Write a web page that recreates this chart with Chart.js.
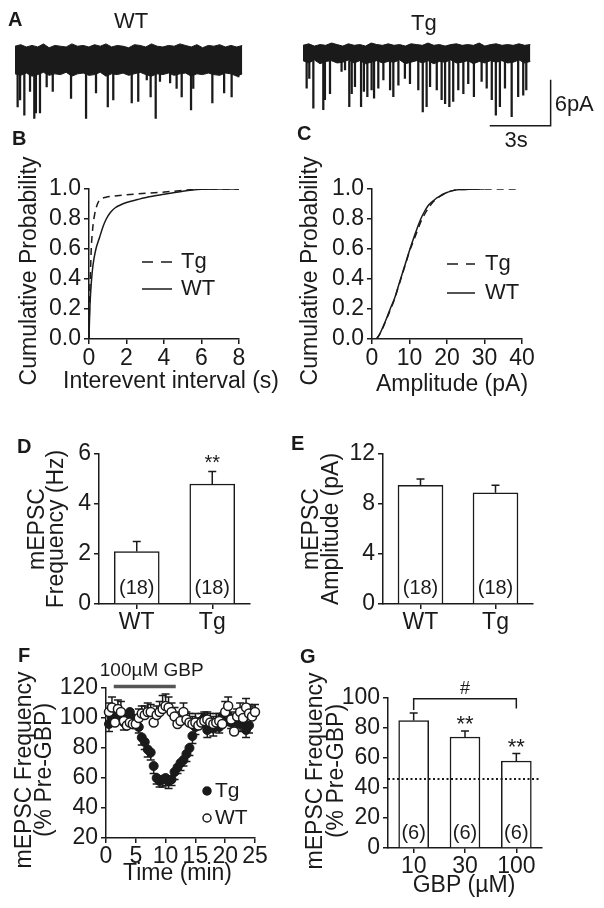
<!DOCTYPE html>
<html><head><meta charset="utf-8">
<script src="https://cdn.jsdelivr.net/npm/chart.js@4.4.1/dist/chart.umd.min.js"></script>
<style>
html,body{margin:0;padding:0;background:#fff;}
#fig{position:relative;width:604px;height:908px;overflow:hidden;background:#fff;font-family:"Liberation Sans",Arial,Helvetica,sans-serif;color:#1a1a1a;}
canvas{position:absolute;}
.lbl{position:absolute;font-weight:bold;font-size:20px;line-height:1;}
.ttl{position:absolute;font-size:22px;line-height:1;}
</style></head><body><div id="fig">
<canvas id="cWT"></canvas><canvas id="cTG"></canvas>
<canvas id="cB"></canvas><canvas id="cC"></canvas>
<canvas id="cD"></canvas><canvas id="cE"></canvas>
<canvas id="cF"></canvas><canvas id="cG"></canvas>
<div class="lbl" style="left:8px;top:9px">A</div>
<div class="lbl" style="left:12px;top:128px">B</div>
<div class="lbl" style="left:297px;top:123px">C</div>
<div class="lbl" style="left:17px;top:436px">D</div>
<div class="lbl" style="left:291px;top:433px">E</div>
<div class="lbl" style="left:18px;top:645px">F</div>
<div class="lbl" style="left:300px;top:646px">G</div>
<div class="ttl" style="left:114px;top:10px">WT</div>
<div class="ttl" style="left:411px;top:12px">Tg</div>
</div>
<script>
// ================= DATA =================
// Panel A: example traces (time in s, current in pA relative to baseline)
const wtBandTime = [0,0.28,0.56,0.84,1.12,1.4,1.68,1.96,2.24,2.52,2.8,3.08,3.36,3.64,3.92,4.2,4.48,4.76,5.04,5.32,5.6,5.88,6.16,6.44,6.72,7.0,7.28,7.56,7.84,8.12,8.4,8.68,8.96,9.24,9.52,9.8,10.08,10.36,10.64,10.92,11.2];
const wtBandTop = [1.8,2.0,1.7,1.9,1.7,2.1,1.6,1.9,1.8,1.7,2.1,1.8,1.9,1.7,2.0,1.8,2.1,1.7,1.9,1.8,1.6,2.0,1.9,1.7,2.1,1.8,1.7,1.9,1.8,2.1,1.9,1.7,2.0,1.6,1.9,1.8,2.0,1.7,1.9,1.7,1.9];
const wtBandBottom = [-1.8,-2.0,-1.7,-2.1,-1.9,-1.6,-2.0,-1.8,-1.9,-1.6,-2.1,-1.8,-1.7,-2.0,-1.9,-1.6,-2.1,-1.8,-1.9,-1.7,-2.0,-1.8,-1.6,-1.9,-2.1,-1.8,-1.9,-1.7,-2.0,-1.8,-1.7,-2.1,-1.8,-1.9,-1.7,-1.9,-2.0,-1.7,-1.8,-2.1,-1.8];
const wtEventTime = [0.13,0.25,0.46,0.74,0.95,1.03,1.23,1.56,1.86,2.76,3.5,3.99,4.57,4.84,5.75,6.07,6.49,6.68,6.93,7.14,7.64,7.96,8.21,8.67,8.78,9.72,10.3,10.67,11.0];
const wtEventAmp = [-6.1,-5.2,-7.2,-4.1,-7.6,-6.9,-6.9,-3.5,-4.1,-5.0,-7.6,-4.3,-6.1,-5.2,-5.6,-5.4,-2.6,-4.8,-7.6,-2.8,-3.0,-3.7,-4.8,-6.5,-3.7,-5.6,-4.3,-4.8,-2.2];
const tgBandTime = [0,0.28,0.56,0.84,1.12,1.4,1.68,1.96,2.24,2.52,2.8,3.08,3.36,3.64,3.92,4.2,4.48,4.76,5.04,5.32,5.6,5.88,6.16,6.44,6.72,7.0,7.28,7.56,7.84,8.12,8.4,8.68,8.96,9.24,9.52,9.8,10.08,10.36,10.64,10.92,11.2];
const tgBandTop = [1.0,1.2,0.9,1.1,1.0,1.3,1.1,0.9,1.2,1.0,1.1,0.9,1.3,1.1,1.0,1.2,1.0,1.1,0.9,1.2,1.1,1.0,1.3,1.0,1.1,0.9,1.1,1.2,1.0,1.1,1.0,1.3,0.9,1.1,1.2,1.0,1.1,1.0,1.2,1.0,1.1];
const tgBandBottom = [-1.0,-1.3,-0.9,-1.4,-1.1,-1.0,-1.3,-1.2,-0.9,-1.3,-1.0,-1.4,-1.2,-1.0,-1.3,-1.1,-1.2,-0.9,-1.4,-1.2,-1.0,-1.3,-1.0,-1.4,-1.1,-1.2,-0.9,-1.3,-1.2,-1.0,-1.4,-1.1,-1.3,-1.0,-1.2,-1.0,-1.3,-1.2,-0.9,-1.3,-1.1];
const tgEventTime = [0.18,0.31,0.51,1.0,1.08,1.33,1.9,2.07,2.28,2.4,2.56,2.86,3.0,3.17,3.38,3.5,3.71,3.96,4.29,4.45,4.7,5.02,5.27,5.68,5.9,6.09,6.26,6.59,6.83,7.0,7.21,7.4,7.65,7.9,8.14,8.42,8.8,9.05,9.3,9.5,9.7,9.95,10.28,10.6,10.85,11.0];
const tgEventAmp = [-4.6,-3.3,-7.2,-7.4,-6.1,-5.3,-2.4,-2.2,-7.0,-5.3,-4.4,-7.0,-5.0,-5.7,-4.8,-5.9,-4.6,-3.5,-4.8,-5.7,-4.2,-3.3,-4.0,-4.8,-7.7,-7.0,-4.4,-4.8,-6.1,-6.6,-7.0,-6.3,-4.8,-5.3,-4.0,-5.7,-3.7,-4.6,-6.1,-8.1,-7.0,-4.6,-8.3,-5.7,-5.5,-4.8];
const scaleBarTime = 3;      // s
const scaleBarCurrent = 6;   // pA
const scaleBarT0 = 9.2, scaleBarI0 = -9.5;

// Panel B: cumulative probability vs interevent interval (s)
const intervalTgX = [0,0.03,0.08,0.12,0.2,0.3,0.45,0.6,0.9,1.5,2.5,3.5,4.5,5.2,6,8];
const intervalTgY = [0,0.25,0.45,0.6,0.74,0.83,0.9,0.93,0.945,0.955,0.967,0.975,0.985,0.993,1.0,1.0];
const intervalWtX = [0,0.02,0.05,0.12,0.21,0.35,0.57,0.75,0.92,1.15,1.4,1.7,2.0,2.6,3.2,4.0,4.5,5.0,5.5,6.0,7,8];
const intervalWtY = [0,0.1,0.22,0.37,0.49,0.59,0.68,0.75,0.8,0.845,0.875,0.895,0.91,0.93,0.948,0.965,0.975,0.985,0.993,0.998,1.0,1.0];

// Panel C: cumulative probability vs amplitude (pA)
const ampTgX = [1.2,2,3,4,5,6,7,8,9,10,11,12,13,14,15,16,17,18,19,20,21,22,24,26,30,39];
const ampTgY = [0,0.03,0.08,0.14,0.2,0.265,0.345,0.425,0.505,0.585,0.65,0.715,0.78,0.83,0.87,0.905,0.93,0.95,0.965,0.977,0.986,0.992,0.997,0.999,1.0,1.0];
const ampWtX = [1.2,2,3,4,5,6,7,8,9,10,11,12,13,14,15,16,17,18,19,20,21,22,24,26,30];
const ampWtY = [0,0.03,0.085,0.145,0.21,0.27,0.35,0.43,0.51,0.59,0.665,0.735,0.8,0.85,0.89,0.915,0.935,0.95,0.965,0.977,0.986,0.992,0.997,0.999,1.0];

// Panels D and E
const genotypes = ['WT','Tg'];
const freqMean = [2.1, 4.8];
const freqSem = [0.4, 0.5];
const freqN = ['(18)','(18)'];
const freqSig = ['', '**'];
const ampMean = [9.5, 8.9];
const ampSem = [0.5, 0.6];
const ampN = ['(18)','(18)'];
const ampSig = ['', ''];

// Panel F: time course (min, % of pre-GBP)
const tgTime = [0.5,1,1.5,2,2.5,3,3.5,4,4.5,5,5.5,6,6.5,7,7.5,8,8.5,9,9.5,10,10.5,11,11.5,12,12.5,13,13.5,14,14.5,15,15.5,16,16.5,17,17.5,18,18.5,19,19.5,20,20.5,21,21.5,22,22.5,23,23.5,24];
const tgPct = [96,100,101,102,100,97,102,104,100,97,94,87,84,79,77,68,60,58,59,60,58,59,64,67,70,72,76,80,88,94,97,98,100,92,95,93,96,94,101,99,101,97,100,98,96,99,92,95];
const tgPctSem = [5,4,5,4,4,5,4,5,4,4,4,5,5,5,5,5,4,4,5,5,5,4,5,4,5,4,5,5,5,5,4,4,4,5,4,5,4,4,5,4,5,4,5,4,5,4,5,5];
const wtTime = [0.5,1,1.5,2,2.5,3,3.5,4,4.5,5,5.5,6,6.5,7,7.5,8,8.5,9,9.5,10,10.5,11,11.5,12,12.5,13,13.5,14,14.5,15,15.5,16,16.5,17,17.5,18,18.5,19,19.5,20,20.5,21,21.5,22,22.5,23,23.5,24,24.5,25];
const wtPct = [104,107,97,106,104,98,95,97,96,96,100,103,102,104,104,97,102,104,106,108,107,104,101,96,98,104,99,97,96,97,95,97,98,99,97,96,97,98,96,104,108,99,91,101,104,100,107,103,101,104];
const wtPctSem = [6,7,8,6,7,5,6,5,6,5,6,5,6,6,5,7,6,7,9,8,7,6,6,5,6,6,5,6,5,6,5,6,6,5,6,5,6,5,6,7,6,5,6,5,6,5,6,6,7,5];
const gbpStartMin = 1.3, gbpEndMin = 11.7, gbpBarLevel = 121;
const gbpLabel = '100\u00b5M GBP';

// Panel G: dose response
const doses = ['10','30','100'];
const dosePct = [85, 74, 58];
const dosePctSem = [5, 4, 5];
const doseN = ['(6)','(6)','(6)'];
const doseSig = ['', '**', '**'];
const refLevel = 46;
const bracketLevel = 99.5, bracketDrops = [92, 93], bracketMark = '#';

// ================= STYLE / HELPERS =================
const FONT = '"Liberation Sans", Arial, Helvetica, sans-serif';
const INK = '#1a1a1a';
const TICK = 23, TITLE = 23;
Chart.defaults.font.family = FONT;
Chart.defaults.font.size = TICK;
Chart.defaults.color = INK;
Chart.defaults.animation = false;
Chart.defaults.responsive = false;
Chart.defaults.maintainAspectRatio = false;
Chart.defaults.devicePixelRatio = 1;
Chart.defaults.events = [];
Chart.defaults.plugins.legend.display = false;
Chart.defaults.plugins.tooltip.enabled = false;

function setupCanvas(id, g) {
  const c = document.getElementById(id);
  c.width = g.w; c.height = g.h;
  c.style.left = g.x + 'px'; c.style.top = g.y + 'px';
  c.style.width = g.w + 'px'; c.style.height = g.h + 'px';
  return c;
}
function drawText(ctx, txt, x, y, size, align, baseline, weight) {
  ctx.save();
  ctx.font = (weight || 'normal') + ' ' + size + 'px ' + FONT;
  ctx.fillStyle = INK; ctx.textAlign = align; ctx.textBaseline = baseline;
  ctx.fillText(txt, x, y);
  ctx.restore();
}
function pts(xs, ys) { return xs.map((x, i) => ({x: x, y: ys[i]})); }

function yAxis(g, o) {
  const w = g.l - g.x;
  return {
    type: 'linear', position: 'left', min: o.min, max: o.max,
    border: {display: true, color: INK, width: 1.5},
    grid: {drawOnChartArea: false, drawTicks: true, tickLength: 5, color: INK, lineWidth: 1.5},
    ticks: {stepSize: o.step, font: {size: TICK}, color: INK, padding: 3, autoSkip: false,
            callback: o.cb || ((v) => String(v))},
    title: {display: false, text: o.title},
    afterFit(s) { s.width = w; }
  };
}
function xAxis(g, o) {
  const h = g.y + g.h - g.b;
  const a = {
    type: o.type, position: 'bottom',
    border: {display: true, color: INK, width: 1.5},
    grid: {drawOnChartArea: false, drawTicks: true, tickLength: 5, color: INK, lineWidth: 1.5, offset: false},
    ticks: {font: {size: TICK}, color: INK, padding: o.tickPad, maxRotation: 0, minRotation: 0, autoSkip: false},
    title: {display: false, text: o.title || ''},
    afterFit(s) { s.height = h; }
  };
  if (o.type === 'linear') { a.min = o.min; a.max = o.max; a.ticks.stepSize = o.step; a.offset = false; }
  else { a.offset = true; }
  return a;
}
function pad(g) { return {left: 0, top: g.t - g.y, right: g.x + g.w - g.r, bottom: 0}; }

// axis titles drawn at full width (not squeezed to axis length); text is read from the scale options
function axisTitles(spec) {
  return {
    id: 'axisTitles',
    afterDraw(chart) {
      const a = chart.chartArea, ctx = chart.ctx;
      if (spec.x) {
        drawText(ctx, chart.options.scales.x.title.text, (a.left + a.right) / 2 + (spec.x.dx || 0), spec.x.cy, TITLE, 'center', 'middle');
      }
      if (spec.y) {
        let lines = chart.options.scales.y.title.text;
        if (!Array.isArray(lines)) lines = [lines];
        ctx.save();
        ctx.translate(spec.y.cx, (a.top + a.bottom) / 2 + (spec.y.dy || 0));
        ctx.rotate(-Math.PI / 2);
        ctx.font = TITLE + 'px ' + FONT; ctx.fillStyle = INK;
        ctx.textAlign = 'center'; ctx.textBaseline = 'middle';
        lines.forEach((l, k) => ctx.fillText(l, 0, k * (spec.y.lh || 0)));
        ctx.restore();
      }
    }
  };
}

// error bars drawn through the chart's own scales
const errorBarsPlugin = {
  id: 'errorBars',
  beforeDatasetsDraw(chart) {
    const ctx = chart.ctx;
    chart.data.datasets.forEach((ds, di) => {
      const eb = ds.errorBars; if (!eb) return;
      const meta = chart.getDatasetMeta(di);
      const ys = chart.scales[meta.yAxisID];
      ctx.save(); ctx.strokeStyle = INK; ctx.lineWidth = eb.width || 1.5;
      meta.data.forEach((el, i) => {
        const d = ds.data[i]; const v = (typeof d === 'object') ? d.y : d;
        const yEnd = ys.getPixelForValue(v + eb.dir * eb.values[i]);
        ctx.beginPath();
        ctx.moveTo(el.x, el.y); ctx.lineTo(el.x, yEnd);
        ctx.moveTo(el.x - eb.cap, yEnd); ctx.lineTo(el.x + eb.cap, yEnd);
        ctx.stroke();
      });
      ctx.restore();
    });
  }
};
Chart.register(errorBarsPlugin);

function barNotes(nLabels, sig, nOffset, sigOffset, nSize, sigSize) {
  return {
    id: 'barNotes',
    afterDatasetsDraw(chart) {
      const ctx = chart.ctx, ys = chart.scales.y, ds = chart.data.datasets[0];
      chart.getDatasetMeta(0).data.forEach((el, i) => {
        drawText(ctx, nLabels[i], el.x, ys.getPixelForValue(0) - nOffset, nSize, 'center', 'middle');
        if (sig[i]) {
          const top = ys.getPixelForValue(ds.data[i] + ds.errorBars.values[i]);
          drawText(ctx, sig[i], el.x, top - sigOffset, sigSize, 'center', 'middle');
        }
      });
    }
  };
}
function lineLegend(dx0, dx1, tx, y0, dy) {
  return {
    id: 'lineLegend',
    afterDraw(chart) {
      const ctx = chart.ctx, a = chart.chartArea;
      chart.data.datasets.forEach((ds, i) => {
        const y = a.top + y0 + i * dy;
        ctx.save(); ctx.strokeStyle = INK; ctx.lineWidth = 1.5;
        ctx.setLineDash(ds.legendDash || []);
        ctx.beginPath(); ctx.moveTo(a.left + dx0, y); ctx.lineTo(a.left + dx1, y); ctx.stroke();
        ctx.restore();
        drawText(ctx, ds.label, a.left + tx, y, 22, 'left', 'middle');
      });
    }
  };
}

// ================= PANEL A =================
function traceChart(id, g, bT, top, bot, eT, eA, xMax, yMin, yMax, extra) {
  return new Chart(setupCanvas(id, g), {
    type: 'bar',
    data: {datasets: [
      {type: 'line', label: 'noise-top', data: pts(bT, top), borderColor: INK, borderWidth: 1, pointRadius: 0, fill: false, tension: 0},
      {type: 'line', label: 'noise-bottom', data: pts(bT, bot), borderColor: INK, borderWidth: 1, pointRadius: 0, fill: '-1', backgroundColor: INK, tension: 0},
      {type: 'bar', label: 'mEPSCs', data: eT.map((t, i) => ({x: t, y: [eA[i], -1]})), backgroundColor: INK, borderWidth: 0, barThickness: 1.6}
    ]},
    options: {
      layout: {padding: {left: g.l - g.x, top: g.t - g.y, right: g.x + g.w - g.r, bottom: g.y + g.h - g.b}},
      scales: {
        x: {type: 'linear', display: false, min: 0, max: xMax, offset: false},
        y: {type: 'linear', display: false, min: yMin, max: yMax}
      }
    },
    plugins: extra || []
  });
}
const gWT = {x: 0, y: 0, w: 300, h: 160, l: 15, t: 37, r: 242.4, b: 121.4};
const gTG = {x: 290, y: 0, w: 314, h: 160, l: 303, t: 30, r: 554.7, b: 126.6};
traceChart('cWT', gWT, wtBandTime, wtBandTop, wtBandBottom, wtEventTime, wtEventAmp, 11.2, -8, 3);
traceChart('cTG', gTG, tgBandTime, tgBandTop, tgBandBottom, tgEventTime, tgEventAmp, 12.4, -9.6, 3, [{
  id: 'scaleBar',
  afterDraw(chart) {
    const xs = chart.scales.x, ys = chart.scales.y, ctx = chart.ctx;
    const xL = xs.getPixelForValue(scaleBarT0), xR = xs.getPixelForValue(scaleBarT0 + scaleBarTime);
    const yB = ys.getPixelForValue(scaleBarI0), yT = ys.getPixelForValue(scaleBarI0 + scaleBarCurrent);
    ctx.save(); ctx.strokeStyle = INK; ctx.lineWidth = 1.5;
    ctx.beginPath(); ctx.moveTo(xR, yT); ctx.lineTo(xR, yB); ctx.lineTo(xL, yB); ctx.stroke(); ctx.restore();
    drawText(ctx, scaleBarCurrent + 'pA', xR + 4, (yT + yB) / 2 + 2, 22, 'left', 'middle');
    drawText(ctx, scaleBarTime + 's', (xL + xR) / 2 - 4, yB + 4, 22, 'center', 'top');
  }
}]);

// ================= PANEL B =================
const gB = {x: 0, y: 150, w: 300, h: 250, l: 89, t: 189, r: 239, b: 339};
new Chart(setupCanvas('cB', gB), {
  type: 'line',
  data: {datasets: [
    {label: 'Tg', data: pts(intervalTgX, intervalTgY), borderColor: INK, borderWidth: 1.5, borderDash: [7, 5], legendDash: [11, 8], pointRadius: 0, cubicInterpolationMode: 'monotone'},
    {label: 'WT', data: pts(intervalWtX, intervalWtY), borderColor: INK, borderWidth: 1.5, pointRadius: 0, cubicInterpolationMode: 'monotone'}
  ]},
  options: {
    layout: {padding: pad(gB)},
    scales: {
      x: xAxis(gB, {type: 'linear', min: 0, max: 8, step: 2, title: 'Interevent interval (s)', tickPad: 1}),
      y: yAxis(gB, {min: 0, max: 1, step: 0.2, title: 'Cumulative Probability', cb: (v) => v.toFixed(1)})
    }
  },
  plugins: [lineLegend(53, 83, 92, 73, 27), axisTitles({x: {cy: 231.5, dx: 7}, y: {cx: 30, dy: 7}})]
});

// ================= PANEL C =================
const gC = {x: 290, y: 150, w: 314, h: 250, l: 372, t: 189, r: 522, b: 339};
new Chart(setupCanvas('cC', gC), {
  type: 'line',
  data: {datasets: [
    {label: 'Tg', data: pts(ampTgX, ampTgY), borderColor: INK, borderWidth: 1.5, borderDash: [7, 5], legendDash: [11, 8], pointRadius: 0, cubicInterpolationMode: 'monotone'},
    {label: 'WT', data: pts(ampWtX, ampWtY), borderColor: INK, borderWidth: 1.5, pointRadius: 0, cubicInterpolationMode: 'monotone'}
  ]},
  options: {
    layout: {padding: pad(gC)},
    scales: {
      x: xAxis(gC, {type: 'linear', min: 0, max: 40, step: 10, title: 'Amplitude (pA)', tickPad: 1}),
      y: yAxis(gC, {min: 0, max: 1, step: 0.2, title: 'Cumulative Probability', cb: (v) => v.toFixed(1)})
    }
  },
  plugins: [lineLegend(75, 103, 113, 75, 29), axisTitles({x: {cy: 235, dx: 5}, y: {cx: 21, dy: 7}})]
});

// ================= PANEL D =================
const gD = {x: 0, y: 420, w: 300, h: 215, l: 99, t: 454, r: 250, b: 604};
new Chart(setupCanvas('cD', gD), {
  type: 'bar',
  data: {labels: genotypes, datasets: [
    {label: 'mEPSC Frequency (Hz)', data: freqMean, backgroundColor: '#ffffff', borderColor: INK, borderWidth: 1.5, barThickness: 45,
     errorBars: {values: freqSem, dir: 1, cap: 4}}
  ]},
  options: {
    layout: {padding: pad(gD)},
    scales: {
      x: xAxis(gD, {type: 'category', tickPad: 0}),
      y: yAxis(gD, {min: 0, max: 6, step: 2, title: ['mEPSC', 'Frequency (Hz)']})
    }
  },
  plugins: [barNotes(freqN, freqSig, 16, 8, 20, 20), axisTitles({y: {cx: 37.5, lh: 19.5, dy: 0}})]
});

// ================= PANEL E =================
const gE = {x: 290, y: 420, w: 314, h: 215, l: 383, t: 454, r: 533, b: 604};
new Chart(setupCanvas('cE', gE), {
  type: 'bar',
  data: {labels: genotypes, datasets: [
    {label: 'mEPSC Amplitude (pA)', data: ampMean, backgroundColor: '#ffffff', borderColor: INK, borderWidth: 1.5, barThickness: 45,
     errorBars: {values: ampSem, dir: 1, cap: 4}}
  ]},
  options: {
    layout: {padding: pad(gE)},
    scales: {
      x: xAxis(gE, {type: 'category', tickPad: 0}),
      y: yAxis(gE, {min: 0, max: 12, step: 4, title: ['mEPSC', 'Amplitude (pA)']})
    }
  },
  plugins: [barNotes(ampN, ampSig, 16, 8, 20, 20), axisTitles({y: {cx: 22, lh: 19.5, dy: 0}})]
});

// ================= PANEL F =================
const gF = {x: 0, y: 640, w: 300, h: 268, l: 106, t: 688, r: 255, b: 838};
new Chart(setupCanvas('cF', gF), {
  type: 'line',
  data: {datasets: [
    {label: 'WT', data: pts(wtTime, wtPct), showLine: false, pointRadius: 4.5, pointBackgroundColor: '#ffffff', pointBorderColor: INK, pointBorderWidth: 1.5, clip: false,
     errorBars: {values: wtPctSem, dir: 1, cap: 4}},
    {label: 'Tg', data: pts(tgTime, tgPct), showLine: false, pointRadius: 4.5, pointBackgroundColor: INK, pointBorderColor: INK, pointBorderWidth: 1, clip: false,
     errorBars: {values: tgPctSem, dir: -1, cap: 4}},
    {label: gbpLabel, data: [{x: gbpStartMin, y: gbpBarLevel}, {x: gbpEndMin, y: gbpBarLevel}], showLine: true, borderColor: '#555555', borderWidth: 3.5, pointRadius: 0, clip: false}
  ]},
  options: {
    layout: {padding: pad(gF)},
    scales: {
      x: xAxis(gF, {type: 'linear', min: 0, max: 25, step: 5, title: 'Time (min)', tickPad: 0}),
      y: yAxis(gF, {min: 20, max: 120, step: 20, title: ['mEPSC Frequency', '(% Pre-GBP)']})
    }
  },
  plugins: [axisTitles({x: {cy: 234, dx: -3}, y: {cx: 25, lh: 20, dy: 7}}), {
    id: 'fNotes',
    afterDraw(chart) {
      const ctx = chart.ctx, a = chart.chartArea, xs = chart.scales.x, ys = chart.scales.y;
      drawText(ctx, gbpLabel, xs.getPixelForValue(gbpStartMin) - 14, ys.getPixelForValue(gbpBarLevel) - 16, 19, 'left', 'middle');
      const order = [1, 0];
      order.forEach((di, k) => {
        const ds = chart.data.datasets[di];
        const x = a.left + 101, y = a.top + 103 + k * 27;
        ctx.save(); ctx.beginPath(); ctx.arc(x, y, 4, 0, Math.PI * 2);
        ctx.fillStyle = ds.pointBackgroundColor; ctx.fill();
        ctx.lineWidth = 1.5; ctx.strokeStyle = INK; ctx.stroke(); ctx.restore();
        drawText(ctx, ds.label, x + 8, y, 21, 'left', 'middle');
      });
    }
  }]
});

// ================= PANEL G =================
const gG = {x: 290, y: 640, w: 314, h: 268, l: 388, t: 698, r: 542, b: 848};
new Chart(setupCanvas('cG', gG), {
  type: 'bar',
  data: {labels: doses, datasets: [
    {label: 'mEPSC Frequency (% Pre-GBP)', data: dosePct, backgroundColor: '#ffffff', borderColor: INK, borderWidth: 1.5, barThickness: 30,
     errorBars: {values: dosePctSem, dir: 1, cap: 4}}
  ]},
  options: {
    layout: {padding: pad(gG)},
    scales: {
      x: xAxis(gG, {type: 'category', title: 'GBP (\u00b5M)', tickPad: 0}),
      y: yAxis(gG, {min: 0, max: 100, step: 20, title: ['mEPSC Frequency', '(% Pre-GBP)']})
    }
  },
  plugins: [barNotes(doseN, doseSig, 15, 6, 20, 22), axisTitles({x: {cy: 246, dx: -1}, y: {cx: 26, lh: 21, dy: -2}}), {
    id: 'gNotes',
    afterDraw(chart) {
      const ctx = chart.ctx, a = chart.chartArea, xs = chart.scales.x, ys = chart.scales.y;
      const yr = ys.getPixelForValue(refLevel);
      ctx.save(); ctx.strokeStyle = INK; ctx.lineWidth = 2; ctx.setLineDash([2, 2.5]);
      ctx.beginPath(); ctx.moveTo(a.left, yr); ctx.lineTo(a.right - 2, yr); ctx.stroke(); ctx.restore();
      const x0 = xs.getPixelForValue(0), x1 = xs.getPixelForValue(doses.length - 1);
      const yb = ys.getPixelForValue(bracketLevel);
      ctx.save(); ctx.strokeStyle = INK; ctx.lineWidth = 1.5; ctx.beginPath();
      ctx.moveTo(x0, ys.getPixelForValue(bracketDrops[0])); ctx.lineTo(x0, yb);
      ctx.lineTo(x1, yb); ctx.lineTo(x1, ys.getPixelForValue(bracketDrops[1])); ctx.stroke(); ctx.restore();
      drawText(ctx, bracketMark, (x0 + x1) / 2, yb - 10, 18, 'center', 'middle');
    }
  }]
});
</script>
</body></html>
